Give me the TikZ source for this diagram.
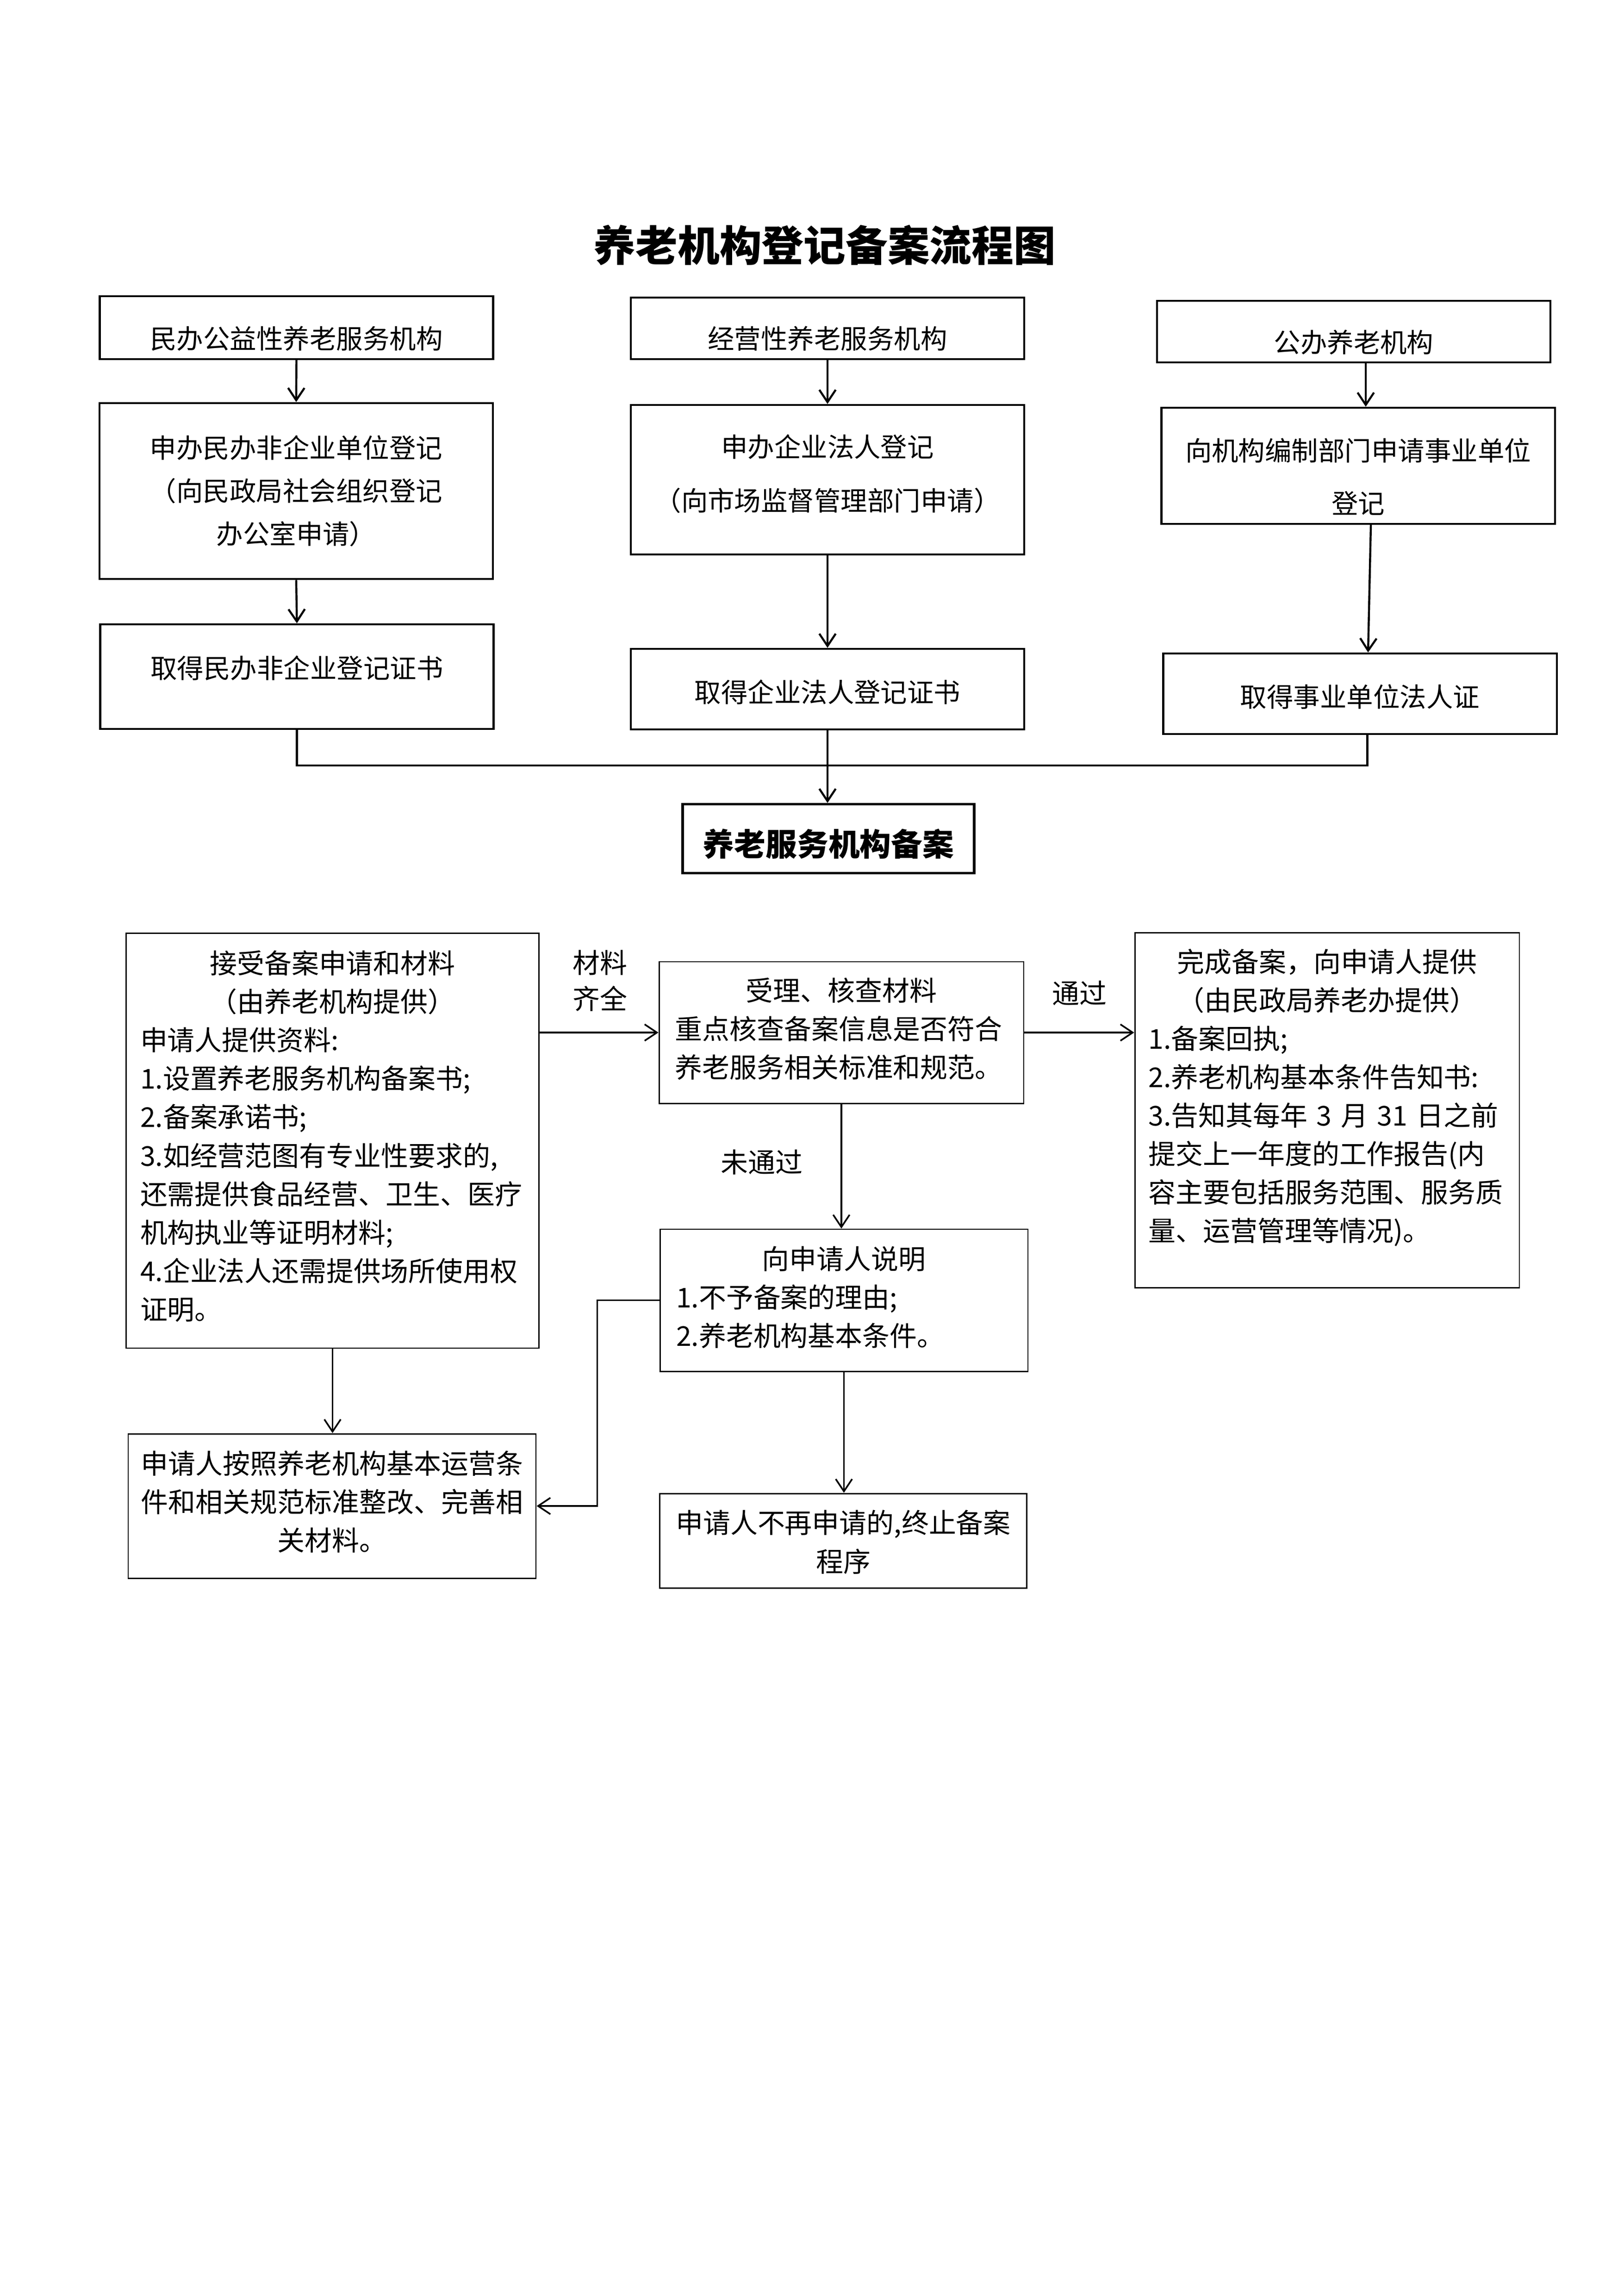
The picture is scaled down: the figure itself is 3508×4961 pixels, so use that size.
\documentclass[tikz,border=0pt]{standalone}
\usepackage{fontspec}
\setmainfont{Noto Sans CJK SC}
\usetikzlibrary{arrows.meta,calc}
\def\tsh{0pt}
\newcommand\shl[1]{\raisebox{\tsh}[\height][\depth]{#1}}
\newcommand\ctrline[1]{\makebox[\linewidth][c]{\shl{#1}}}
\begin{document}
\begin{tikzpicture}[x=0.169691pt, y=-0.169691pt,
  tsh/.style={execute at begin node={\def\tsh{#1}}},
  tbox/.style={draw, line width=0.75pt, inner sep=0pt, align=center, text width=134pt,
    minimum width=144.3pt, font=\fontsize{9.75}{15.8}\selectfont},
  lbox/.style={draw, line width=0.5pt, inner sep=0pt, font=\fontsize{10}{14.1}\selectfont},
  tarr/.style={-{Straight Barb[length=4.5pt,width=6pt]}, line width=0.75pt},
  larr/.style={-{Straight Barb[length=4.5pt,width=6pt]}, line width=0.6pt},
  lbl/.style={inner sep=0pt, align=center, font=\fontsize{10}{13.2}\selectfont},
  ttl/.style={inner sep=0pt, font=\fontsize{15.4}{18}\selectfont\bfseries}
]
\useasboundingbox (0,0) rectangle (3508,4961);

% title
\node[ttl] (T) at (1782,530) {养老机构登记备案流程图};

% column A
\node[tbox, tsh=-4pt, minimum height=23.08pt] (A1) at (640.5,708) {\shl{民办公益性养老服务机构}};
\node[tbox, minimum height=64.5pt] (A2) at (640,1061) {申办民办非企业单位登记\\（向民政局社会组织登记\\办公室申请）};
\node[tbox, tsh=3.2pt, minimum height=38.35pt] (A3) at (641.5,1462) {\shl{取得民办非企业登记证书}};

% column B
\node[tbox, tsh=-3.8pt, minimum height=22.57pt] (B1) at (1788,709.5) {\shl{经营性养老服务机构}};
\node[tbox, tsh=2.1pt, minimum height=54.81pt, font=\fontsize{9.75}{19.7}\selectfont] (B2) at (1788,1036.5) {\shl{申办企业法人登记}\\\shl{（向市场监督管理部门申请）}};
\node[tbox, tsh=-1.1pt, minimum height=29.53pt] (B3) at (1788,1489) {\shl{取得企业法人登记证书}};

% column C
\node[tbox, tsh=-4pt, minimum height=22.57pt] (C1) at (2925,716.5) {\shl{公办养老机构}};
\node[tbox, tsh=-4pt, minimum height=42.59pt, font=\fontsize{9.75}{19.4}\selectfont] (C2) at (2934.5,1006.5) {\shl{向机构编制部门申请事业单位}\\\shl{登记}};
\node[tbox, tsh=-1.1pt, minimum height=29.53pt] (C3) at (2938.5,1499) {\shl{取得事业单位法人证}};

% filing box
\node[draw, line width=0.9pt, inner sep=0pt, align=center, text width=100pt, tsh=-1.9pt,
  minimum width=106.9pt, minimum height=25.28pt, font=\fontsize{11.5}{14}\selectfont\bfseries]
  (D) at (1790,1812) {\shl{养老服务机构备案}};

% top connectors
\draw[tarr] (A1.south) -- (A2.north);
\draw[tarr] (A2.south) -- (A3.north);
\draw[tarr] (B1.south) -- (B2.north);
\draw[tarr] (B2.south) -- (B3.north);
\draw[tarr] (2951,0 |- C1.south) -- (2951,0 |- C2.north);
\draw[tarr] (2962,0 |- C2.south) -- (2956,0 |- C3.north);
\coordinate (m) at (1789,1654);
\draw[line width=0.75pt] (A3.south) |- (m) -| ($(C3.south)+(16,0)$);
\draw[tarr] (B3.south) -- (B3.south |- D.north);

% lower part
\node[lbox, tsh=1.6pt, minimum width=151.5pt, minimum height=152.2pt, text width=141pt, align=left]
  (E) at (718.5,2464.5) {\ctrline{接受备案申请和材料}\\
\ctrline{（由养老机构提供）}\\
\shl{申请人提供资料:}\\
\shl{1.设置养老服务机构备案书;}\\
\shl{2.备案承诺书;}\\
\shl{3.如经营范图有专业性要求的,}\\
\shl{还需提供食品经营、卫生、医疗}\\
\shl{机构执业等证明材料;}\\
\shl{4.企业法人还需提供场所使用权}\\
\shl{证明。}};

\node[lbox, tsh=1.4pt, minimum width=133.7pt, minimum height=51.93pt, text width=122pt, align=left]
  (F) at (1818,2231) {\ctrline{受理、核查材料}\\
\shl{重点核查备案信息是否符合}\\
\shl{养老服务相关标准和规范。}};

\node[lbox, tsh=4.6pt, minimum width=141pt, minimum height=130.3pt, text width=131pt, align=left]
  (G) at (2867.5,2399) {\ctrline{完成备案，向申请人提供}\\
\ctrline{（由民政局养老办提供）}\\
\shl{1.备案回执;}\\
\shl{2.养老机构基本条件告知书:}\\
\shl{3.告知其每年 3 月 31 日之前}\\
\shl{提交上一年度的工作报告(内}\\
\shl{容主要包括服务范围、服务质}\\
\shl{量、运营管理等情况)。}};

\node[lbox, tsh=1.1pt, minimum width=134.9pt, minimum height=52.1pt, text width=123pt, align=left]
  (H) at (1823.5,2809.5) {\ctrline{向申请人说明}\\
\shl{1.不予备案的理由;}\\
\shl{2.养老机构基本条件。}};

\node[lbox, tsh=1.6pt, minimum width=149.5pt, minimum height=52.94pt, text width=142pt, align=center]
  (I) at (717.5,3254) {\shl{申请人按照养老机构基本运营条}\\\shl{件和相关规范标准整改、完善相}\\\shl{关材料。}};

\node[lbox, tsh=-0.5pt, minimum width=134.7pt, minimum height=34.62pt, text width=125pt, align=center]
  (J) at (1822,3329) {\shl{申请人不再申请的,终止备案}\\\shl{程序}};

% labels
\node[lbl] (L1) at (1296,2119) {材料\\齐全};
\node[lbl] (L2) at (2332,2146) {通过};
\node[lbl] (L3) at (1646,2511) {未通过};

% lower connectors
\draw[larr] (E.east |- F.west) -- (F.west);
\draw[larr] (F.east) -- (F.east -| G.west);
\draw[larr] (F.south) -- (F.south |- H.north);
\draw[larr] (E.south) -- (E.south |- I.north);
\draw[larr] (H.west) -- ++(-134,0) |- (I.east);
\draw[larr] (H.south) -- (H.south |- J.north);
\end{tikzpicture}
\end{document}
